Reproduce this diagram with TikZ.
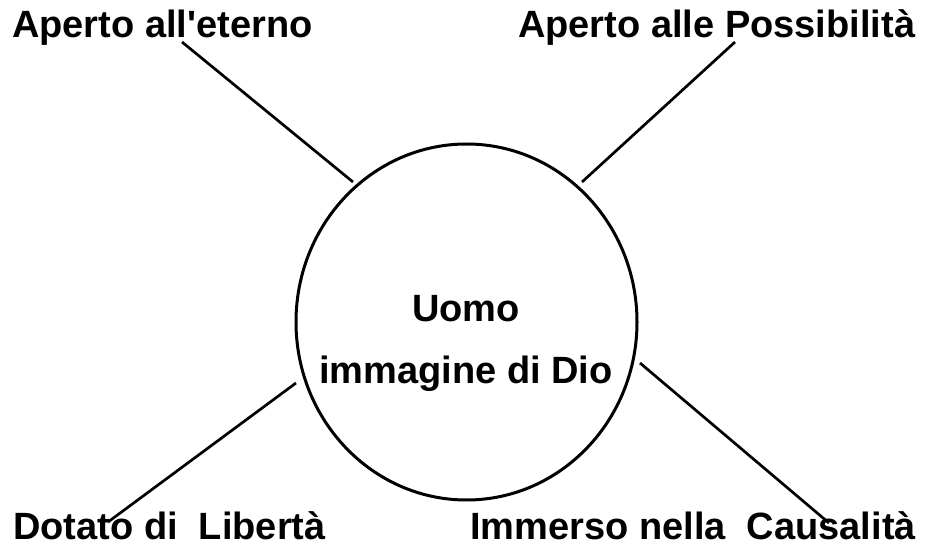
\documentclass[tikz,border=0pt]{standalone}
\usepackage{fontspec}
\newfontfamily\labfont{Liberation Sans}
\usetikzlibrary{shapes.geometric}
\begin{document}
\begin{tikzpicture}[x=1pt,y=-1pt,
  lbl/.style={inner sep=0pt,font=\labfont\fontsize{38}{46}\selectfont\bfseries},
  conn/.style={line width=2.7pt},
  ring/.style={draw,ellipse,line width=3pt,minimum width=341pt,minimum height=356pt,inner sep=0pt}]
\useasboundingbox[fill=white] (0,0) rectangle (927,548);
\node[ring] (c) at (466.5,322) {};
\node[lbl,anchor=base] (t1) at (466,322) {Uomo};
\node[lbl,anchor=base] (t2) at (466,383) {immagine di Dio};
\node[lbl,anchor=base west] (tl) at (12,38) {Aperto all'eterno};
\node[lbl,anchor=base west] (tr) at (518,38) {Aperto alle Possibilità};
\node[lbl,anchor=base west] (bl) at (13,539) {Dotato di\ \ Libertà};
\node[lbl,anchor=base west] (br) at (470,539) {Immerso nella\ \ Causalità};
\coordinate (tlA) at (182,42);
\coordinate (tlB) at (353,182);
\coordinate (trA) at (735,42);
\coordinate (trB) at (582,182);
\coordinate (blA) at (108,522);
\coordinate (blB) at (296,383);
\coordinate (brA) at (829,523);
\coordinate (brB) at (640,363);
\draw[conn] (tlA) -- (tlB);
\draw[conn] (trA) -- (trB);
\draw[conn] (blA) -- (blB);
\draw[conn] (brA) -- (brB);
\end{tikzpicture}
\end{document}
